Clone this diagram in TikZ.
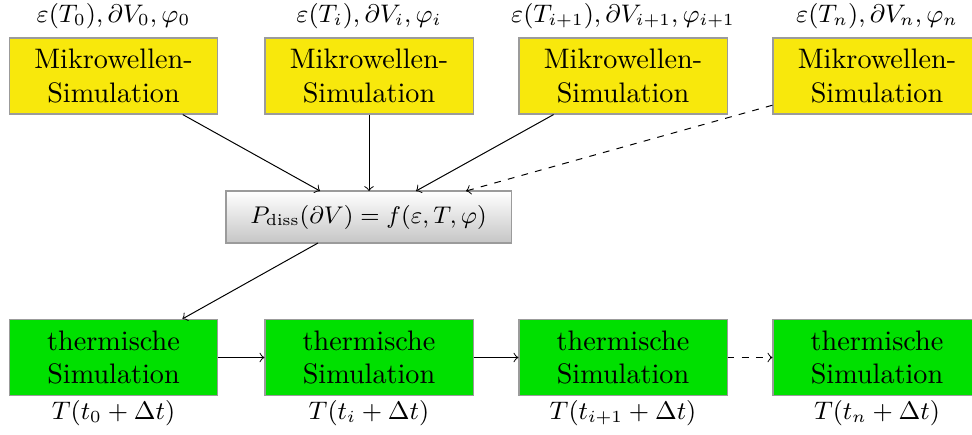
\documentclass[tikz,border=0pt]{standalone}
\usepackage{graphicx}
\definecolor{simyellow}{RGB}{248,232,12}
\definecolor{simgreen}{RGB}{0,224,0}
\definecolor{boxborder}{RGB}{155,155,155}
\begin{document}
\begin{tikzpicture}[x=0.3546pt,y=-0.3546pt,
  mw/.style={draw=boxborder,fill=simyellow,minimum width=73.8pt,minimum height=26.95pt,inner sep=0pt,align=center},
  th/.style={mw,fill=simgreen},
  calcbox/.style={draw=boxborder,top color=white,bottom color=gray!45,minimum width=101.1pt,minimum height=18.4pt,inner sep=0pt,font=\small},
  lbl/.style={inner sep=0pt,font=\small},
  conn/.style={->,line width=0.35pt},
  dconn/.style={conn,dash pattern=on 2.4pt off 2.6pt}]
\useasboundingbox (0,0) rectangle (972,434);
\clip (0,0) rectangle (972,434);
% top labels
\node[lbl] (l0) at (113.5,16) {$\varepsilon(T_0), \partial V_0, \varphi_0$};
\node[lbl] (l1) at (369,16) {$\varepsilon(T_i), \partial V_i, \varphi_i$};
\node[lbl] (l2) at (623,16) {$\varepsilon(T_{i+1}), \partial V_{i+1}, \varphi_{i+1}$};
\node[lbl] (l3) at (877,16) {$\varepsilon(T_n), \partial V_n, \varphi_n$};
% microwave boxes
\node[mw] (m0) at (113.5,76) {Mikrowellen-\\Simulation};
\node[mw] (m1) at (369,76) {Mikrowellen-\\Simulation};
\node[mw] (m2) at (623,76) {Mikrowellen-\\Simulation};
\node[mw] (m3) at (877,76) {Mikrowellen-\\Simulation};
% center box
\node[calcbox] (c) at (368.5,217) {\scalebox{0.95}{$P_{\mathrm{diss}}(\partial V) = f(\varepsilon, T, \varphi)$}};
\coordinate (t0) at (320,191);
\coordinate (t1) at (369,191);
\coordinate (t2) at (416,191);
\coordinate (t3) at (466,191);
\coordinate (b0) at (318,243);
% thermal boxes
\node[th] (g0) at (113.5,357.5) {thermische\\Simulation};
\node[th] (g1) at (369,357.5) {thermische\\Simulation};
\node[th] (g2) at (623,357.5) {thermische\\Simulation};
\node[th] (g3) at (877,357.5) {thermische\\Simulation};
% bottom labels
\node[lbl] (r0) at (113.5,413) {$T(t_0 + \Delta t)$};
\node[lbl] (r1) at (369,413) {$T(t_i + \Delta t)$};
\node[lbl] (r2) at (623,413) {$T(t_{i+1} + \Delta t)$};
\node[lbl] (r3) at (877,413) {$T(t_n + \Delta t)$};
% connectors
\draw[conn] (m0) -- (t0);
\draw[conn] (m1) -- (t1);
\draw[conn] (m2) -- (t2);
\draw[dconn] (m3) -- (t3);
\draw[conn] (b0) -- (g0);
\draw[conn] (g0) -- (g1);
\draw[conn] (g1) -- (g2);
\draw[dconn] (g2) -- (g3);
\end{tikzpicture}
\end{document}
